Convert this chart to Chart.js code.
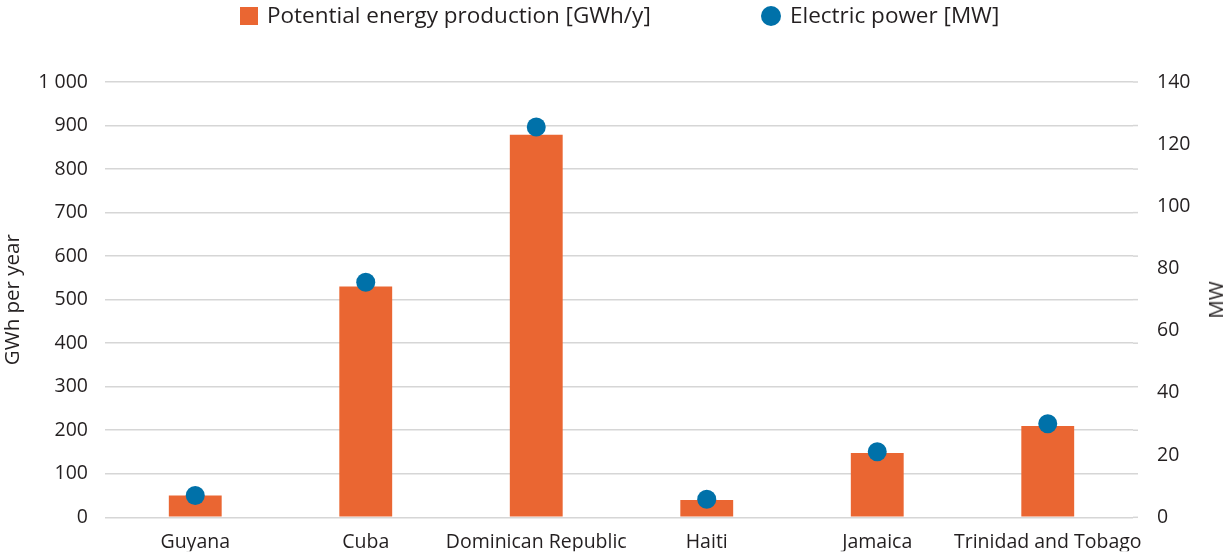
<!DOCTYPE html>
<html>
<head>
<meta charset="utf-8">
<script src="https://cdn.jsdelivr.net/npm/chart.js@4.4.0/dist/chart.umd.min.js"></script>
<style>
  body { margin: 0; background: #fff; font-family: "Open Sans", sans-serif; }
  #wrap { position: relative; width: 1228px; height: 553px; }
  .item { position: absolute; top: 0px; font-size: 22.5px; color: #231f20; line-height: 30px; white-space: nowrap; }
  .sq { position: absolute; left: 240px; top: 7px; width: 18px; height: 18px; background: #ea6632; }
  .dot { position: absolute; left: 761px; top: 6px; width: 20px; height: 20px; border-radius: 50%; background: #0071a9; }
  .mw { position: absolute; left: 1215px; top: 300px; font-size: 20.5px; color: #231f20; transform: translate(-50%, -50%) rotate(-90deg); white-space: nowrap; }
</style>
</head>
<body>
<div id="wrap">
  <canvas id="chart" width="1228" height="553"></canvas>
  <div class="sq"></div>
  <div class="item" style="left:267px">Potential energy production [GWh/y]</div>
  <div class="dot"></div>
  <div class="item" style="left:790px">Electric power [MW]</div>
  <div class="mw">MW</div>
</div>
<script>
// values
const countries = ['Guyana', 'Cuba', 'Dominican Republic', 'Haiti', 'Jamaica', 'Trinidad and Tobago'];
const energyGWh = [50, 530, 879, 40, 148, 210];
const powerMW = [7, 75.6, 125.5, 5.8, 21.1, 30.1];

const textColor = '#231f20';
const gridColor = '#d6d6d6';
const tickFont = { family: 'Open Sans', size: 19.5 };

// short grid stubs past the right edge of the plot, like the original
const rightStubs = {
    id: 'rightStubs',
    beforeDatasetsDraw(chart) {
        const y = chart.scales.y;
        const ctx = chart.ctx;
        ctx.save();
        ctx.strokeStyle = gridColor;
        ctx.lineWidth = 1.5;
        y.ticks.forEach(t => {
            const py = y.getPixelForValue(t.value);
            ctx.beginPath();
            ctx.moveTo(chart.chartArea.right, py);
            ctx.lineTo(chart.chartArea.right + 5, py);
            ctx.stroke();
        });
        ctx.restore();
    }
};

new Chart(document.getElementById('chart'), {
    type: 'bar',
    data: {
        labels: countries,
        datasets: [
            {
                type: 'line',
                label: 'Electric power [MW]',
                data: powerMW,
                yAxisID: 'y1',
                showLine: false,
                pointRadius: 9.5,
                pointHoverRadius: 9.5,
                backgroundColor: '#0071a9',
                borderColor: '#0071a9',
                borderWidth: 0,
                order: 0
            },
            {
                label: 'Potential energy production [GWh/y]',
                data: energyGWh,
                yAxisID: 'y',
                backgroundColor: '#ea6632',
                barPercentage: 0.31,
                categoryPercentage: 1,
                order: 1
            }
        ]
    },
    options: {
        responsive: false,
        animation: false,
        layout: { padding: { top: 82, left: 0, right: 0, bottom: 0 } },
        plugins: { legend: { display: false }, tooltip: { enabled: false } },
        scales: {
            x: {
                grid: { display: false },
                border: { display: false },
                ticks: { color: textColor, font: tickFont, padding: 5, maxRotation: 0, autoSkip: false },
                afterFit(scale) { scale.height = 34; }
            },
            y: {
                position: 'left',
                min: 0,
                max: 1000,
                ticks: {
                    stepSize: 100,
                    color: textColor,
                    font: tickFont,
                    padding: 17,
                    callback: v => v === 1000 ? '1 000' : v
                },
                grid: { color: gridColor, lineWidth: 1.5, drawTicks: true, tickLength: 5, tickColor: gridColor },
                border: { display: false },
                title: { display: true, text: 'GWh per year', color: textColor, font: { family: 'Open Sans', size: 20.5 }, padding: { top: 1, bottom: 0 } },
                afterFit(scale) { scale.width = 110; }
            },
            y1: {
                position: 'right',
                min: 0,
                max: 140,
                ticks: { stepSize: 20, color: textColor, font: tickFont, padding: 24 },
                grid: { drawOnChartArea: false, drawTicks: false },
                border: { display: false },
                afterFit(scale) { scale.width = 95; }
            }
        }
    },
    plugins: [rightStubs]
});
</script>
</body>
</html>
